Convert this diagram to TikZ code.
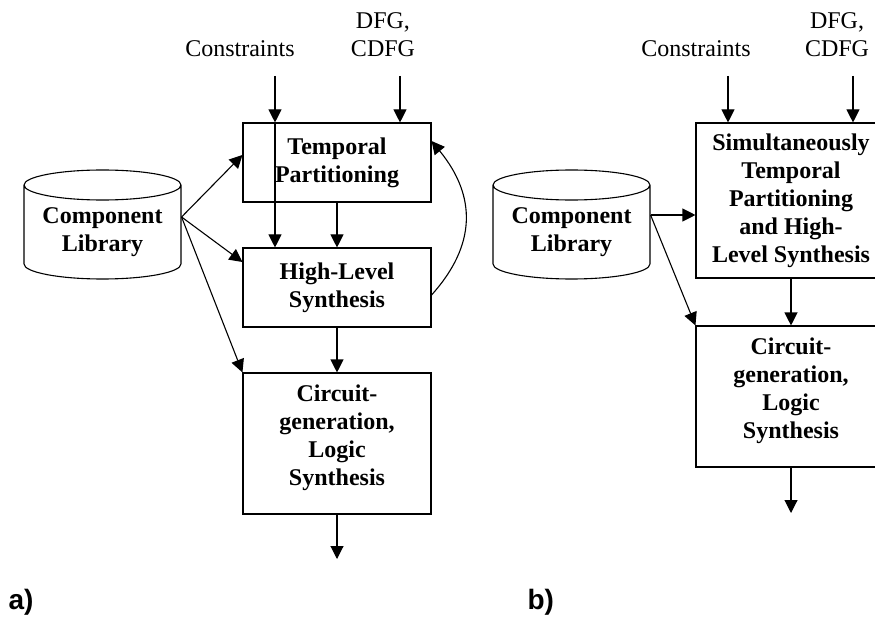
\documentclass[tikz,border=0pt]{standalone}
\usepackage{fontspec}
\setmainfont{Liberation Serif}
\newfontfamily\labelfont{Liberation Sans}
\usetikzlibrary{arrows.meta,shapes.geometric}
\tikzset{
  box/.style={draw, rectangle, minimum width=188pt, inner sep=0pt, align=center,
    font=\fontsize{24}{28}\selectfont\bfseries},
  lib/.style={draw, cylinder, shape border rotate=90, aspect=0.25,
    minimum width=157pt, minimum height=109pt, inner sep=0pt, align=center,
    anchor=shape center, font=\fontsize{24}{28}\selectfont\bfseries},
  input/.style={align=center, inner sep=0pt, font=\fontsize{24}{28}\selectfont},
  part/.style={anchor=base west, inner sep=0pt, font=\labelfont\fontsize{28}{32}\selectfont\bfseries},
  arr/.style={-{Triangle[length=13pt,width=13pt]}},
}
\begin{document}
\begin{tikzpicture}[x=1pt, y=-1pt, line width=1.1pt]
  \useasboundingbox (0,0) rectangle (875,620);
  % a) partitioning, then synthesis
  \node[input, anchor=base] (consa) at (240,57) {Constraints};
  \node[input, anchor=base] (dfga) at (383,57) {DFG,\\CDFG};
  \node[lib] (liba) at (102.5,224.5) {Component\\Library};
  \node[box, minimum height=79pt] (tpa) at (337,162.5) {Temporal\\Partitioning};
  \node[box, minimum height=79pt] (hlsa) at (337,287.5) {High-Level\\Synthesis};
  \node[box, minimum height=141pt, text depth=17pt] (cga) at (337,443.5)
    {Circuit-\\generation,\\Logic\\Synthesis};
  \node[part] (parta) at (8,609) {a)};
  \coordinate (ina1) at (275,76);
  \coordinate (ina2) at (400,76);
  \coordinate (srca) at (liba.east |- 0,217);
  \coordinate (enda) at (337,559);
  \begin{scope}[arr]
    \draw (ina1) -- (ina1 |- tpa.north);
    \draw (ina1 |- tpa.north) -- (ina1 |- hlsa.north);
    \draw (ina2) -- (ina2 |- tpa.north);
    \draw (tpa) -- (hlsa);
    \draw (hlsa) -- (cga);
    \draw (cga) -- (enda);
    \draw (srca) -- ([yshift=7.5pt]tpa.west);
    \draw (srca) -- ([yshift=25.5pt]hlsa.west);
    \draw (srca) -- (cga.north west);
    \draw ([yshift=-7.5pt]hlsa.east) .. controls +(45,-50) and +(45,55) .. ([yshift=21.5pt]tpa.east);
  \end{scope}
  % b) one combined step
  \node[input, anchor=base] (consb) at (696,57) {Constraints};
  \node[input, anchor=base] (dfgb) at (837,57) {DFG,\\CDFG};
  \node[lib] (libb) at (571.5,224.5) {Component\\Library};
  \node[box, minimum width=190pt, minimum height=155pt] (sim) at (791,200.5)
    {Simultaneously\\Temporal\\Partitioning\\and High-\\Level Synthesis};
  \node[box, minimum width=190pt, minimum height=141pt, text depth=17pt] (cgb) at (791,396.5)
    {Circuit-\\generation,\\Logic\\Synthesis};
  \node[part] (partb) at (527,609) {b)};
  \coordinate (inb1) at (728,76);
  \coordinate (inb2) at (853,76);
  \coordinate (srcb) at (libb.east |- 0,215);
  \coordinate (endb) at (791,513);
  \begin{scope}[arr]
    \draw (inb1) -- (inb1 |- sim.north);
    \draw (inb2) -- (inb2 |- sim.north);
    \draw (srcb) -- (srcb -| sim.west);
    \draw (srcb) -- (cgb.north west);
    \draw (sim) -- (cgb);
    \draw (cgb) -- (endb);
  \end{scope}
\end{tikzpicture}
\end{document}
